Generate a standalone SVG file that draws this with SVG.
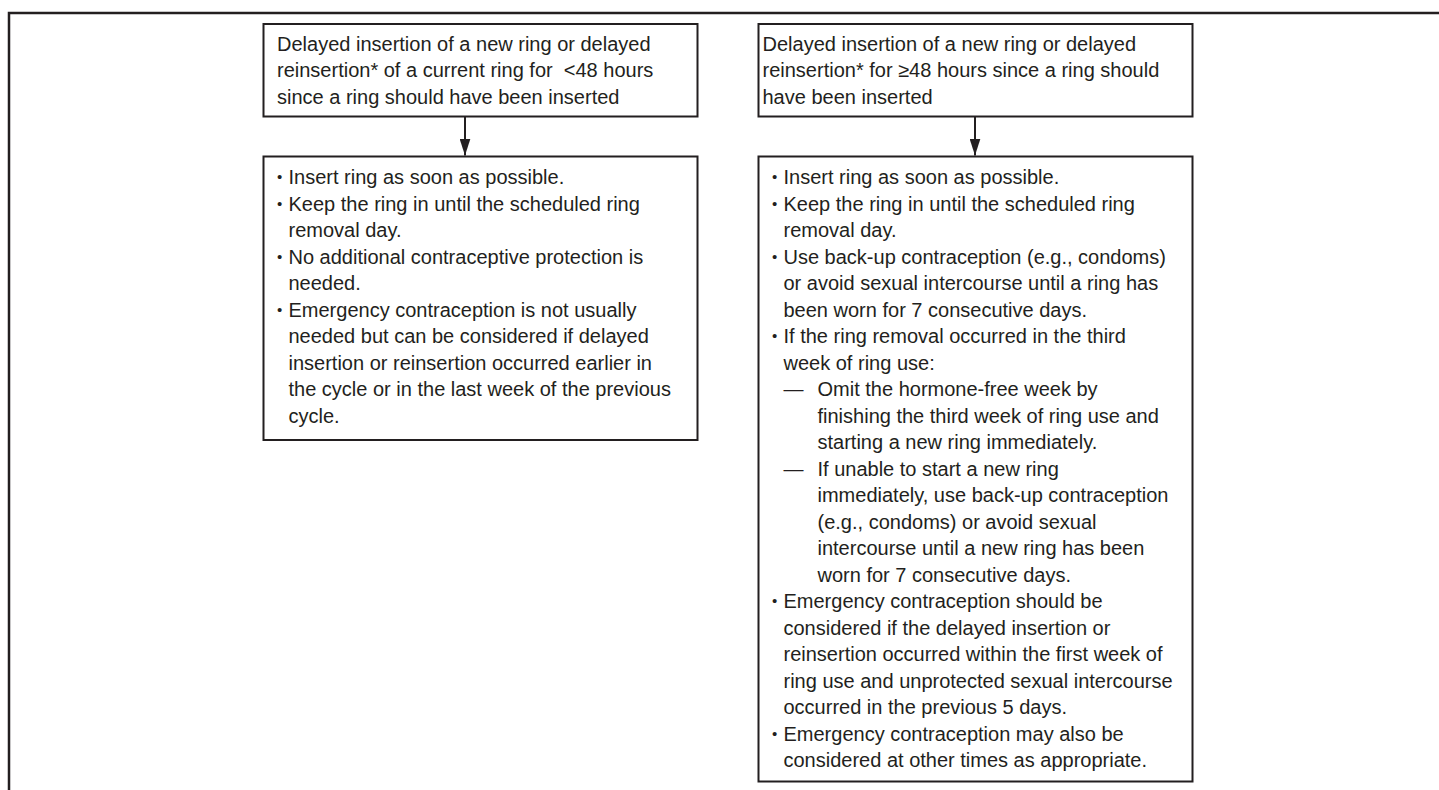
<svg xmlns="http://www.w3.org/2000/svg" width="1439" height="790" viewBox="0 0 1439 790">
<style>
.frame{fill:none;stroke:#231f20;stroke-width:2.5}
.box{fill:#fff;stroke:#231f20;stroke-width:2}
.t{font-family:"Liberation Sans",Arial,sans-serif;font-size:20px;fill:#231f20}
.b{font-family:"Liberation Sans",Arial,sans-serif;font-size:15px;fill:#231f20}
.conn{stroke:#231f20;stroke-width:2;fill:none;marker-end:url(#ah)}
</style>
<defs>
<marker id="ah" markerWidth="17" markerHeight="11" refX="17" refY="5.5" orient="auto" markerUnits="userSpaceOnUse" viewBox="0 0 17 11">
<path d="M0,0 L17,5.5 L0,11 Z" fill="#231f20"/>
</marker>
</defs>
<rect width="1439" height="790" fill="#fff"/>
<path class="frame" d="M9,790 V13 H1439"/>

<g id="connectors">
<line class="conn" x1="465" y1="117" x2="465" y2="155.5"/>
<line class="conn" x1="975" y1="117" x2="975" y2="155.5"/>
</g>

<g id="node-left-top">
<rect class="box" x="263.5" y="24" width="434" height="92.5"/>
<text class="t" x="277" y="50.5">Delayed insertion of a new ring or delayed</text>
<text class="t" x="277" y="77">reinsertion* of a current ring for&#160; &lt;48 hours</text>
<text class="t" x="277" y="103.5">since a ring should have been inserted</text>
</g>

<g id="node-right-top">
<rect class="box" x="758.5" y="24" width="434" height="92.5"/>
<text class="t" x="762.5" y="50.5">Delayed insertion of a new ring or delayed</text>
<text class="t" x="762.5" y="77">reinsertion* for ≥48 hours since a ring should</text>
<text class="t" x="762.5" y="103.5">have been inserted</text>
</g>

<g id="node-left-bottom">
<rect class="box" x="263.5" y="156.5" width="434" height="283.5"/>
<text class="b" x="277" y="182">•</text>
<text class="t" x="288.5" y="184">Insert ring as soon as possible.</text>
<text class="b" x="277" y="208.5">•</text>
<text class="t" x="288.5" y="210.5">Keep the ring in until the scheduled ring</text>
<text class="t" x="288.5" y="237">removal day.</text>
<text class="b" x="277" y="261.5">•</text>
<text class="t" x="288.5" y="263.5">No additional contraceptive protection is</text>
<text class="t" x="288.5" y="290">needed.</text>
<text class="b" x="277" y="314.5">•</text>
<text class="t" x="288.5" y="316.5">Emergency contraception is not usually</text>
<text class="t" x="288.5" y="343">needed but can be considered if delayed</text>
<text class="t" x="288.5" y="369.5">insertion or reinsertion occurred earlier in</text>
<text class="t" x="288.5" y="396">the cycle or in the last week of the previous</text>
<text class="t" x="288.5" y="422.5">cycle.</text>
</g>

<g id="node-right-bottom">
<rect class="box" x="758.5" y="156.5" width="434" height="625"/>
<text class="b" x="772" y="182">•</text>
<text class="t" x="783.5" y="184">Insert ring as soon as possible.</text>
<text class="b" x="772" y="208.5">•</text>
<text class="t" x="783.5" y="210.5">Keep the ring in until the scheduled ring</text>
<text class="t" x="783.5" y="237">removal day.</text>
<text class="b" x="772" y="261.5">•</text>
<text class="t" x="783.5" y="263.5">Use back-up contraception (e.g., condoms)</text>
<text class="t" x="783.5" y="290">or avoid sexual intercourse until a ring has</text>
<text class="t" x="783.5" y="316.5">been worn for 7 consecutive days.</text>
<text class="b" x="772" y="341">•</text>
<text class="t" x="783.5" y="343">If the ring removal occurred in the third</text>
<text class="t" x="783.5" y="369.5">week of ring use:</text>
<text class="t" x="783.5" y="396">—</text>
<text class="t" x="817.5" y="396">Omit the hormone-free week by</text>
<text class="t" x="817.5" y="422.5">finishing the third week of ring use and</text>
<text class="t" x="817.5" y="449">starting a new ring immediately.</text>
<text class="t" x="783.5" y="475.5">—</text>
<text class="t" x="817.5" y="475.5">If unable to start a new ring</text>
<text class="t" x="817.5" y="502">immediately, use back-up contraception</text>
<text class="t" x="817.5" y="528.5">(e.g., condoms) or avoid sexual</text>
<text class="t" x="817.5" y="555">intercourse until a new ring has been</text>
<text class="t" x="817.5" y="581.5">worn for 7 consecutive days.</text>
<text class="b" x="772" y="606">•</text>
<text class="t" x="783.5" y="608">Emergency contraception should be</text>
<text class="t" x="783.5" y="634.5">considered if the delayed insertion or</text>
<text class="t" x="783.5" y="661">reinsertion occurred within the first week of</text>
<text class="t" x="783.5" y="687.5">ring use and unprotected sexual intercourse</text>
<text class="t" x="783.5" y="714">occurred in the previous 5 days.</text>
<text class="b" x="772" y="738.5">•</text>
<text class="t" x="783.5" y="740.5">Emergency contraception may also be</text>
<text class="t" x="783.5" y="767">considered at other times as appropriate.</text>
</g>
</svg>
